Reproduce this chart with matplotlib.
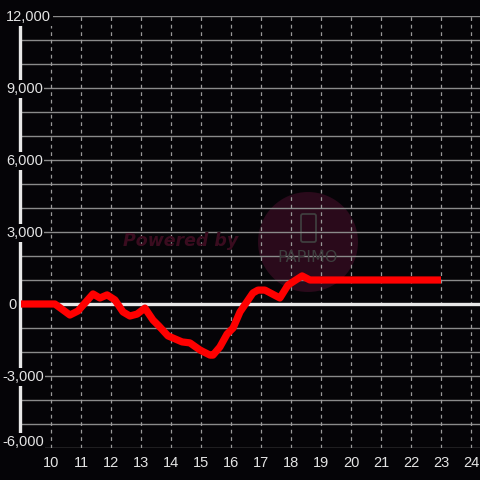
import matplotlib
matplotlib.use("Agg")
import matplotlib.pyplot as plt
import matplotlib.transforms as mtransforms
from matplotlib.patches import Circle, FancyBboxPatch

# data (hour of day, difference)
hours = [9.0, 10.13, 10.63, 10.9, 11.4, 11.63, 11.87, 12.13, 12.4, 12.63,
         12.87, 13.13, 13.4, 13.6, 13.9, 14.37, 14.63, 14.97, 15.3, 15.4,
         15.63, 15.87, 16.07, 16.3, 16.73, 16.9, 17.13, 17.63, 17.9, 18.37,
         18.63, 23.0]
values = [0, 0, -460, -290, 420, 250, 380, 170, -330, -500,
          -420, -170, -670, -920, -1330, -1580, -1620, -1920, -2130, -2130,
          -1790, -1250, -1000, -330, 460, 580, 580, 250, 790, 1170,
          1000, 1000]

x_ticks = list(range(10, 25))
y_labels = [12000, 9000, 6000, 3000, 0, -3000, -6000]
y_grid = list(range(-6000, 12001, 1000))

bg = "#050407"
txt = "#e4e4e4"

plt.rcParams['font.family'] = ['Liberation Sans', 'DejaVu Sans']

fig = plt.figure(figsize=(4.8, 4.8), dpi=100, facecolor=bg)
ax = fig.add_axes([20 / 480, 32 / 480, 460 / 480, 432 / 480])
ax.set_facecolor(bg)
ax.set_xlim(10 - 31 / 30, 10 + 429 / 30)
ax.set_ylim(-6000, 12000)

# watermark (behind grid)
circ = Circle((308 / 480, 1 - 242 / 480), 50 / 480, transform=fig.transFigure,
              facecolor="#2a0a1b", edgecolor="none", zorder=0.1)
ax.add_patch(circ)
phone = FancyBboxPatch((301 / 480, 1 - 242 / 480), 15 / 480, 28 / 480,
                       boxstyle="round,pad=0,rounding_size=0.004",
                       transform=fig.transFigure, facecolor="none",
                       edgecolor="#3e3e3e", lw=1.3, zorder=0.2)
ax.add_patch(phone)
fig.text(308 / 480, 1 - 258 / 480, "PAPIMO", color="#3e3e3e", fontsize=11.5,
         ha="center", va="center", family="DejaVu Sans", zorder=0.2)
fig.text(123 / 480, 1 - 241 / 480, "Powered by", color="#3a0c1f", fontsize=12.5,
         fontweight="bold", fontstyle="italic", family="DejaVu Sans",
         ha="left", va="center", zorder=0.2)

# grid
for v in y_grid:
    ax.axhline(v, color="#8a8a8a", lw=1.0, zorder=0.5)
for h in x_ticks:
    ax.axvline(h, color="#9a9a9a", lw=0.9, ls=(0, (3, 3)), zorder=0.5)

ax.axhline(0, color="#e8e8e8", lw=2.4, zorder=2)

for s in ["top", "right", "bottom"]:
    ax.spines[s].set_visible(False)
ax.spines["left"].set_color("#e8e8e8")
ax.spines["left"].set_linewidth(2.4)
ax.spines["left"].set_zorder(2)

ax.plot(hours, values, color="#ff0000", lw=5.2, solid_joinstyle="round",
        solid_capstyle="butt", zorder=3, clip_on=False)

ax.set_xticks(x_ticks)
ax.set_xticklabels([str(h) for h in x_ticks])
ax.set_yticks([])
ax.tick_params(axis="x", length=0, pad=5.5, labelsize=10.5, labelcolor=txt)

# y labels with black boxes over the spine
trans = mtransforms.blended_transform_factory(fig.transFigure, ax.transData)
for v in y_labels:
    label = "{:,}".format(v)
    x0 = 6 if v >= 0 else 2
    if v == 0:
        x0 = 8
    dy = 6 if v == -6000 else -1
    t = mtransforms.offset_copy(trans, fig=fig, x=0, y=dy * 0.72, units="points")
    ax.text(x0 / 480, v, label, transform=t, color=txt, fontsize=10.5,
            ha="left", va="center", zorder=4, clip_on=False,
            bbox=dict(facecolor=bg, edgecolor="none", pad=1.2))

fig.savefig("out.png", dpi=100, facecolor=bg)
